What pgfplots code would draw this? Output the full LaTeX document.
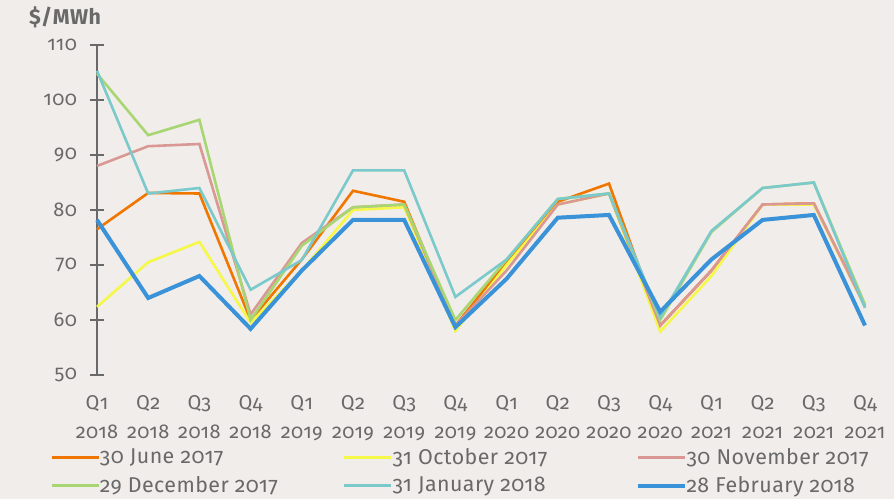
\documentclass[border=0pt]{standalone}
\usepackage{pgfplots}
\pgfplotsset{compat=1.18}
\usepackage{fontspec}
\setmainfont{Fira Sans}[Numbers=OldStyle, LetterSpace=2]
\definecolor{bg}{RGB}{241,237,234}
\definecolor{txt}{RGB}{105,105,105}
\definecolor{cOrange}{RGB}{240,118,0}
\definecolor{cYellow}{RGB}{245,248,70}
\definecolor{cPink}{RGB}{218,152,148}
\definecolor{cGreen}{RGB}{168,214,114}
\definecolor{cTeal}{RGB}{122,201,203}
\definecolor{cBlue}{RGB}{58,146,216}
\newcommand{\lgbox}[1]{\makebox[120pt][l]{#1}}
\begin{document}
\begin{tikzpicture}
\fill[bg] (0,0) rectangle (447pt,249.5pt);
\begin{axis}[
  scale only axis, width=384pt, height=165pt,
  at={(48.5pt,62pt)}, anchor=south west,
  xmin=0, xmax=15, ymin=50, ymax=110,
  axis lines*=left,
  x axis line style={draw=none},
  y axis line style={txt, line width=0.6pt},
  ytick={50,60,...,110},
  xtick={0,...,15},
  xticklabels={{Q1\\2018},{Q2\\2018},{Q3\\2018},{Q4\\2018},{Q1\\2019},{Q2\\2019},{Q3\\2019},{Q4\\2019},{Q1\\2020},{Q2\\2020},{Q3\\2020},{Q4\\2020},{Q1\\2021},{Q2\\2021},{Q3\\2021},{Q4\\2021}},
  xtick style={draw=none},
  ytick style={txt, line width=0.6pt},
  tick align=center,
  major tick length=7pt,
  /pgf/number format/assume math mode=true,
  tick label style={font=\fontsize{10}{14.5}\selectfont, text=txt},
  xticklabel style={align=center, yshift=-3pt},
  yticklabel style={xshift=-3pt},
  clip=false,
  legend columns=3,
  legend cell align=left,
  legend style={draw=none, fill=none, at={(-0.0612,-0.22)}, anchor=north west,
    font=\fontsize{10.7}{12}\selectfont, text=txt, inner sep=0pt, row sep=4.5pt,
    nodes={inner sep=0pt},
    /tikz/every even column/.append style={column sep=1.5pt}},
  legend image code/.code={\draw[#1] (0pt,0pt) -- (23.5pt,0pt);},
]
\addplot[cOrange, line width=1.3pt] coordinates {(0,76.5)(1,83.1)(2,83)(3,60)(4,71)(5,83.5)(6,81.5)(7,59)(8,70.5)(9,81.5)(10,84.8)(11,59)(12,69)(13,81)(14,81.2)(15,62.5)};
\addlegendentry{\lgbox{30 June 2017}}
\addplot[cYellow, line width=1.3pt] coordinates {(0,62.4)(1,70.5)(2,74.2)(3,59.5)(4,69)(5,80)(6,80.5)(7,58)(8,70)(9,81)(10,83)(11,57.9)(12,68)(13,81)(14,81)(15,62.5)};
\addlegendentry{\lgbox{31 October 2017}}
\addplot[cPink, line width=1.3pt] coordinates {(0,88)(1,91.6)(2,92)(3,61)(4,74)(5,80.5)(6,81)(7,59)(8,69)(9,81)(10,83)(11,59)(12,69)(13,81)(14,81.2)(15,62.5)};
\addlegendentry{\lgbox{30 November 2017}}
\addplot[cGreen, line width=1.3pt] coordinates {(0,104.8)(1,93.6)(2,96.4)(3,60)(4,73.5)(5,80.5)(6,81)(7,60)(8,71)(9,82)(10,83)(11,60)(12,76)(13,84)(14,85)(15,62.8)};
\addlegendentry{\lgbox{29 December 2017}}
\addplot[cTeal, line width=1.3pt] coordinates {(0,105.3)(1,83)(2,84)(3,65.5)(4,70.9)(5,87.2)(6,87.2)(7,64.2)(8,71)(9,82)(10,83)(11,60.5)(12,76.2)(13,84)(14,85)(15,62.2)};
\addlegendentry{\lgbox{31 January 2018}}
\addplot[cBlue, line width=2pt] coordinates {(0,78.2)(1,64)(2,68)(3,58.4)(4,69)(5,78.2)(6,78.2)(7,58.7)(8,67.5)(9,78.6)(10,79.1)(11,61.5)(12,71)(13,78.2)(14,79.1)(15,59)};
\addlegendentry{\lgbox{28 February 2018}}
\node[anchor=west, font=\fontsize{10.7}{12}\selectfont\bfseries, text=txt] at (axis description cs:-0.0977,1.085) {\$/MWh};
\end{axis}
\pgfresetboundingbox
\path[use as bounding box] (0,0) rectangle (447pt,249.5pt);
\end{tikzpicture}
\end{document}
